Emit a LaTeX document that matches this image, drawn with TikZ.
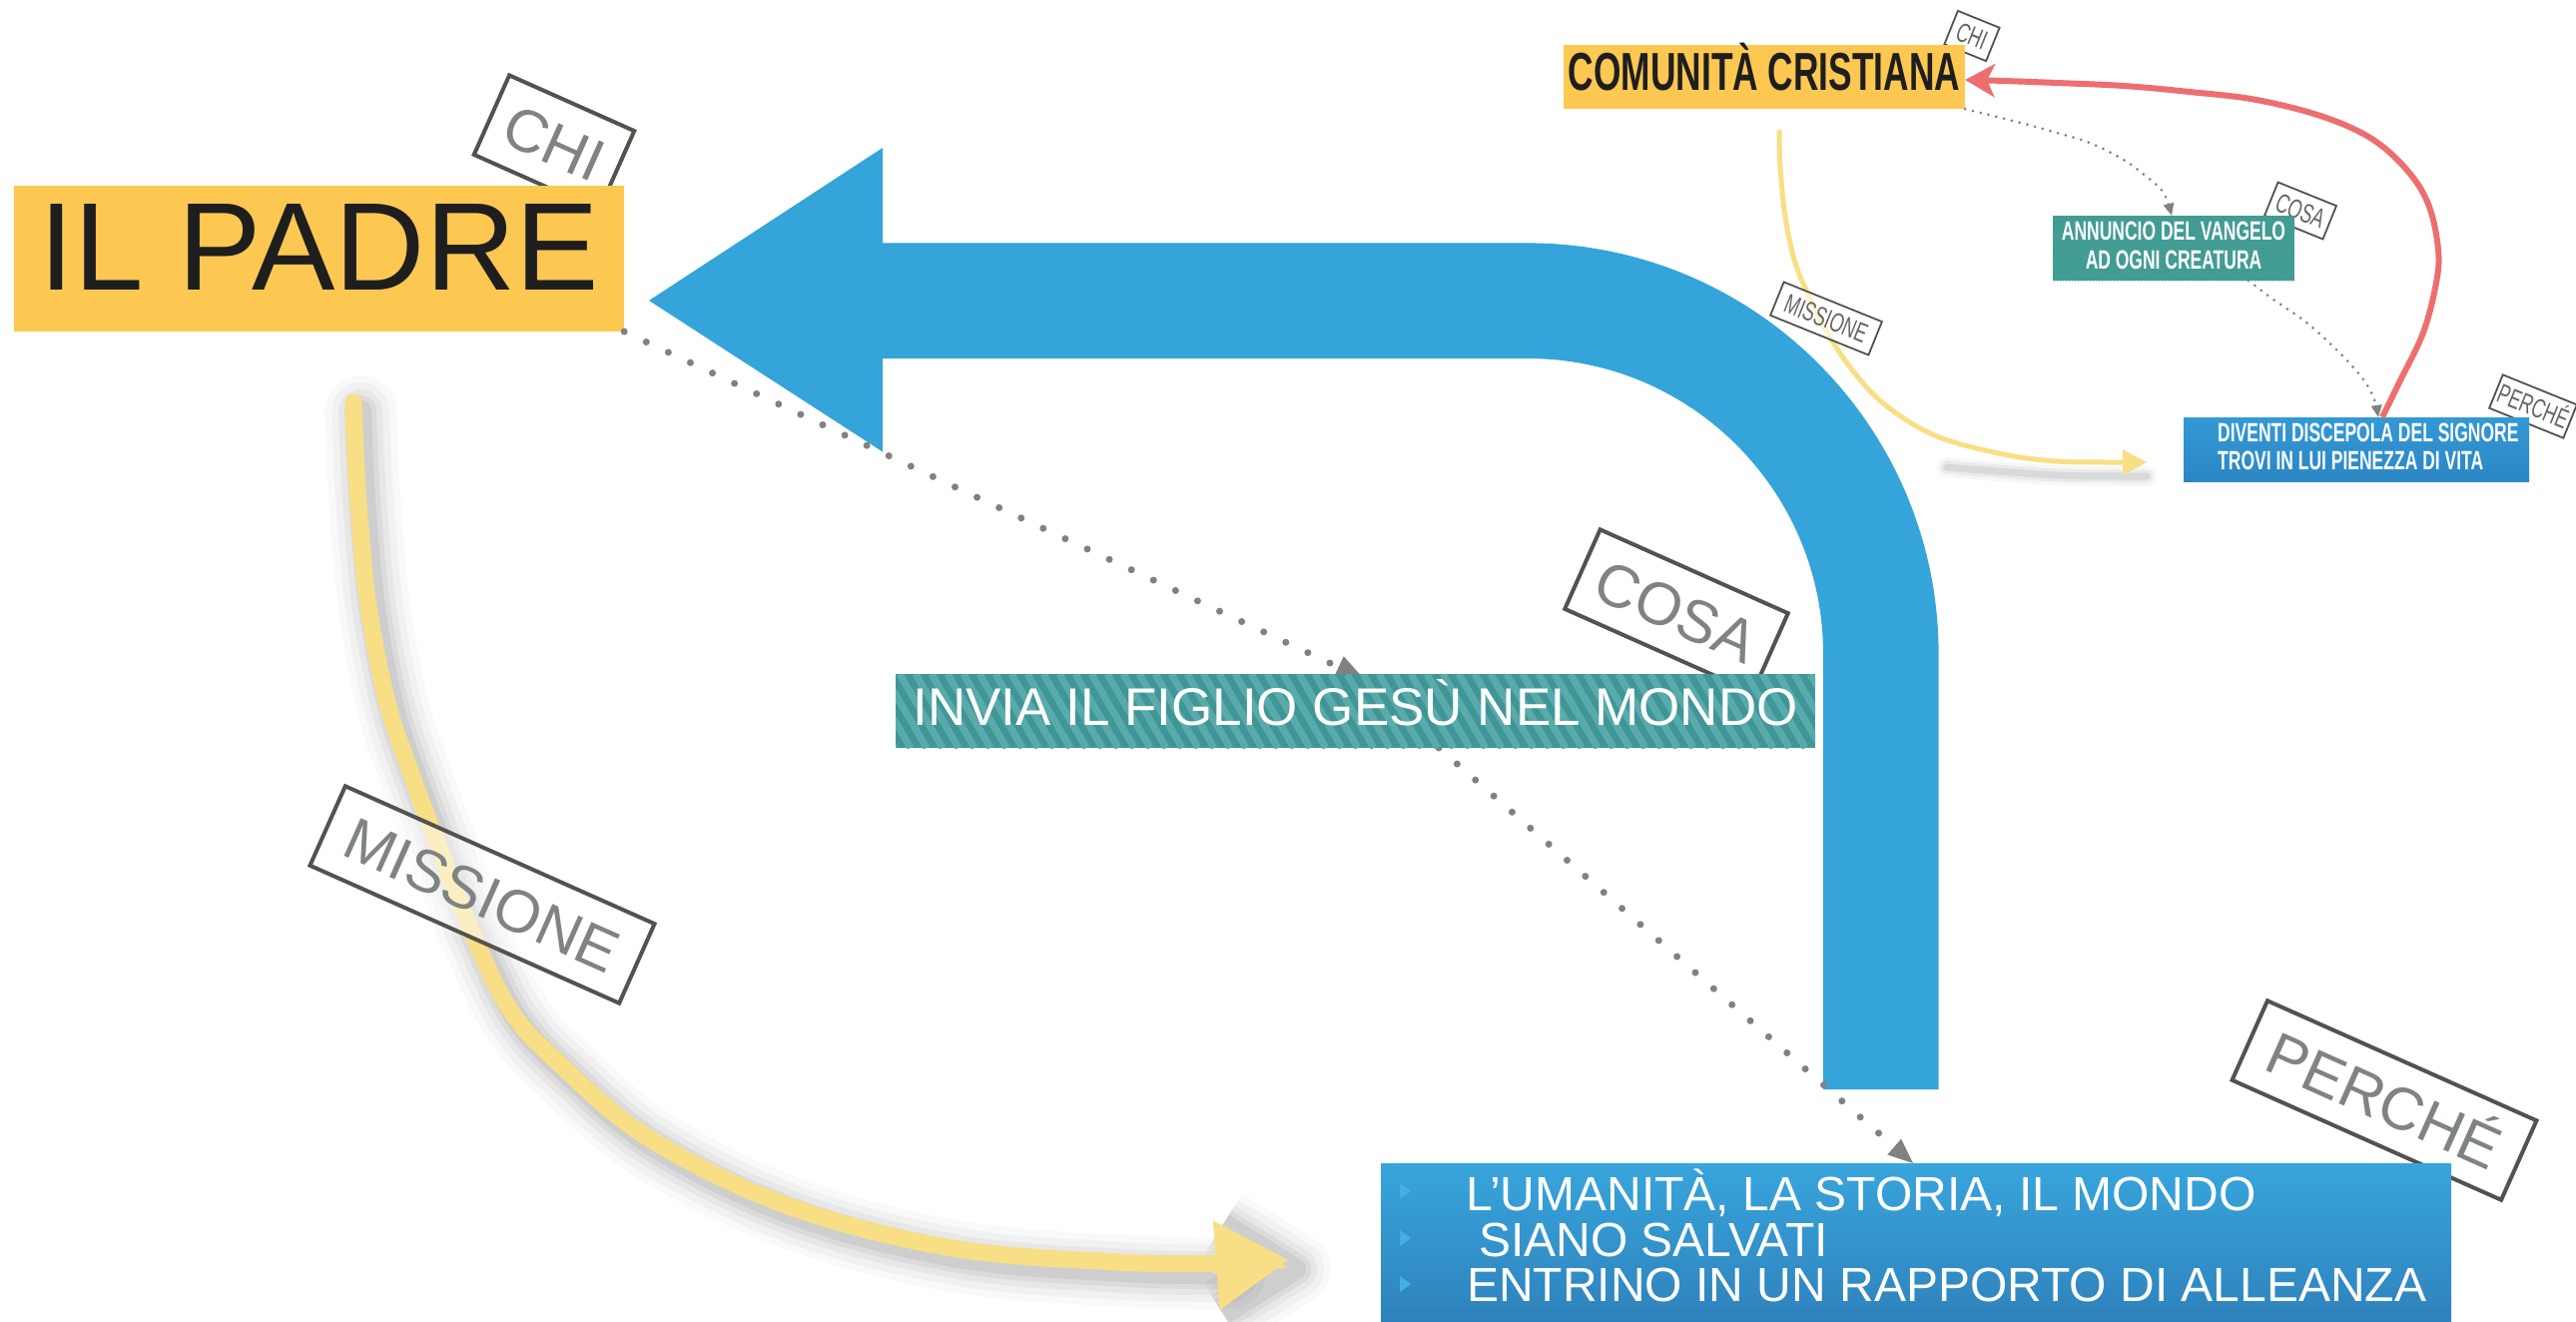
\documentclass[tikz,border=0pt]{standalone}
\usepackage{fontspec}
\setmainfont{Liberation Sans}
\newfontfamily\cond[FakeStretch=0.66]{Liberation Sans}
\usetikzlibrary{arrows.meta,patterns}
\definecolor{bigblue}{HTML}{35A4DA}
\definecolor{padreyel}{HTML}{FDC852}
\definecolor{padretext}{HTML}{1E1E1E}
\definecolor{tealA}{HTML}{409696}
\definecolor{tealB}{HTML}{58ABAA}
\definecolor{boxtop}{HTML}{38A5DC}
\definecolor{boxbot}{HTML}{2F82BC}
\definecolor{bulletblue}{HTML}{46AEE2}
\definecolor{tagborder}{HTML}{55524E}
\definecolor{taggray}{HTML}{7F8384}
\definecolor{smalltaggray}{HTML}{666666}
\definecolor{dotgray}{HTML}{818181}
\definecolor{yel}{HTML}{F8DF85}
\definecolor{redline}{HTML}{EE6E70}
\definecolor{smteal}{HTML}{3A968E}
\definecolor{smtealB}{HTML}{5CAFA8}
\definecolor{smblueT}{HTML}{3399D5}
\definecolor{smblueB}{HTML}{2C86C4}
\begin{document}
\begin{tikzpicture}[x=1pt,y=1pt,
  bigtag/.style={draw=tagborder, line width=4pt, fill=white, text=taggray,
    font=\fontsize{60}{60}\selectfont, minimum height=87pt, inner sep=0pt,
    text height=43pt, text depth=0pt, rotate=-24},
  smalltag/.style={draw=tagborder, line width=1.8pt, fill=white, text=smalltaggray,
    font=\cond\fontsize{27}{27}\selectfont, minimum height=36pt, inner sep=0pt,
    text height=19pt, text depth=0pt, rotate=-22},
  dotline/.style={dotgray, line width=7pt, line cap=round, dash pattern=on 0pt off 24.4pt},
  smdotline/.style={dotgray, line width=3pt, line cap=round, dash pattern=on 0pt off 8pt},
  bigline/.style={text=white, font=\fontsize{48}{48}\selectfont, inner sep=0pt, anchor=base west},
  smline/.style={text=white, font=\cond\bfseries\fontsize{26.5}{26.5}\selectfont, inner sep=0pt},
]
\useasboundingbox (0,0) rectangle (2580,-1323);
\fill[white] (0,0) rectangle (2580,-1323);

% ---------------- big yellow "missione" arrow with shadow
\coordinate (ystart) at (354,-403);
\coordinate (yend) at (1290,-1262);
\foreach \w/\o in {72/0.022,58/0.03,44/0.04,32/0.05,22/0.06} {
  \draw[black, line width=\w pt, opacity=\o, line cap=round, line join=round, shift={(7,-9)}]
    plot[smooth, tension=0.6] coordinates {(354,-403) (358,-490) (368,-600) (387,-700) (410,-770) (440,-850) (470,-927) (510,-1010) (560,-1065) (650,-1140) (790,-1208) (954,-1250) (1120,-1264) (1225,-1266)};
  \draw[black, line width=\w pt, opacity=\o, line join=round, shift={(7,-9)}]
    (1218,-1217) -- (1290,-1262) -- (1218,-1307);
}
\draw[yel, line width=17pt, line cap=round, -{Triangle[length=72pt,width=90pt,line width=0pt]}]
  plot[smooth, tension=0.6] coordinates {(ystart) (358,-490) (368,-600) (387,-700) (410,-770) (440,-850) (470,-927) (510,-1010) (560,-1065) (650,-1140) (790,-1208) (954,-1250) (1120,-1264) (1225,-1265) (yend)};

% ---------------- small diagram connectors
\coordinate (sy0) at (1782,-130);
\coordinate (sy1) at (2150,-463);
\foreach \w/\o in {20/0.03,13/0.05,7/0.07} {
  \draw[black, line width=\w pt, opacity=\o, line cap=round]
    plot[smooth] coordinates {(1950,-468) (2060,-476) (2150,-477)};
}
\draw[yel, line width=5pt, -{Triangle[length=24pt,width=26pt,line width=0pt]}]
  plot[smooth, tension=0.6] coordinates {(sy0) (1783,-167) (1788,-217) (1797,-260) (1810,-293) (1830,-333) (1857,-373) (1890,-407) (1940,-437) (2007,-455) (2060,-462) (2110,-463) (sy1)};

% ---------------- big blue arrow
\fill[bigblue] (650,-301) -- (884,-148) -- (884,-243.4) -- (1530,-243.4)
  arc[start angle=90, end angle=0, radius=411.6pt] -- (1941.6,-1091) -- (1826,-1091) -- (1826,-655)
  arc[start angle=0, end angle=90, radius=296pt] -- (884,-359) -- (884,-452.5) -- cycle;

% ---------------- tags lying behind boxes
\node[bigtag, minimum width=137pt] (chi) at (555,-143) {CHI};
\node[bigtag, minimum width=206pt] (cosa) at (1679,-612) {COSA};
\node[bigtag, minimum width=295pt] (perche) at (2388,-1102) {PERCHÉ};
\node[smalltag, minimum width=45pt] (schi) at (1975,-36) {CHI};
\node[smalltag, minimum width=63pt] (scosa) at (2304,-211) {COSA};
\node[smalltag, minimum width=80pt] (sperche) at (2537,-407) {PERCHÉ};

% ---------------- main boxes
\node[fill=padreyel, minimum width=611pt, minimum height=146pt, inner sep=0pt, text=padretext,
  font=\fontsize{125}{125}\selectfont, text height=89.5pt, text depth=25.9pt] (padre) at (319.5,-258.9) {IL PADRE};

\coordinate (d1tip) at (1366,-680);
\coordinate (d2start) at (1441,-749);
\coordinate (d2tip) at (1916,-1165);
\draw[dotline, -{Triangle[length=28pt,width=24pt,line width=0pt]}] (padre.south east) -- (d1tip);
\draw[dotline, -{Triangle[length=25pt,width=21pt,line width=0pt]}] (d2start) -- (d2tip);

\node[fill=tealA, minimum width=921pt, minimum height=74pt, inner sep=0pt, text=white,
  font=\fontsize{53}{53}\selectfont, text height=38pt, text depth=10pt,
  path picture={\foreach \i in {-60,-44,...,960} {\draw[tealB, line width=7pt] ([xshift=\i pt]path picture bounding box.north west) -- ++(43,-74);}}]
  (invia) at (1357.5,-712) {INVIA IL FIGLIO GESÙ NEL MONDO};

\node[top color=boxtop, bottom color=boxbot, minimum width=1072pt, minimum height=158pt, inner sep=0pt] (salv) at (1919,-1244) {};
\fill[bulletblue] (1402,-1185) -- (1413,-1193) -- (1402,-1201) -- cycle;
\fill[bulletblue] (1402,-1232) -- (1413,-1240) -- (1402,-1248) -- cycle;
\fill[bulletblue] (1402,-1278) -- (1413,-1286) -- (1402,-1294) -- cycle;
\node[bigline] (l1) at (1468,-1212) {L’UMANITÀ, LA STORIA, IL MONDO};
\node[bigline] (l2) at (1481,-1258) {SIANO SALVATI};
\node[bigline] (l3) at (1469,-1303) {ENTRINO IN UN RAPPORTO DI ALLEANZA};

\node[bigtag, minimum width=339pt, fill opacity=0.5, text opacity=1, draw opacity=1] (missione) at (483,-896) {MISSIONE};

% ---------------- small diagram boxes
\node[fill=padreyel, minimum width=402pt, minimum height=64pt, inner sep=0pt, text=padretext,
  font=\cond\bfseries\fontsize{53.5}{53.5}\selectfont, text height=38.3pt, text depth=12.3pt] (com) at (1767,-77) {COMUNITÀ CRISTIANA};
\node[preaction={fill=smteal}, pattern=north west lines, pattern color=smtealB, minimum width=242pt, minimum height=65pt, inner sep=0pt] (ann) at (2177,-248.5) {};
\node[smline, anchor=base] (ann1) at (2177,-240.7) {ANNUNCIO DEL VANGELO};
\node[smline, anchor=base] (ann2) at (2177,-269.3) {AD OGNI CREATURA};
\node[top color=smblueT, bottom color=smblueB, minimum width=346pt, minimum height=64pt, inner sep=0pt] (div) at (2360,-450) {};
\node[smline, anchor=base west] (div1) at (2221,-442.7) {DIVENTI DISCEPOLA DEL SIGNORE};
\node[smline, anchor=base west] (div2) at (2221,-470.7) {TROVI IN LUI PIENEZZA DI VITA};

\draw[smdotline, -{Triangle[length=12pt,width=11pt,line width=0pt]}]
  plot[smooth] coordinates {(com.south east) (2020,-122) (2060,-133) (2093,-143) (2127,-160) (2150,-177) (2167,-193) ([xshift=-2pt]ann.north)};
\draw[smdotline, -{Triangle[length=12pt,width=11pt,line width=0pt]}]
  plot[smooth] coordinates {([xshift=75pt]ann.south) (2277,-300) (2310,-323) (2343,-353) (2367,-380) (2378,-400) ([xshift=22pt]div.north)};
\draw[redline, line width=6pt, -{Stealth[length=30pt,width=34pt,inset=8pt,line width=0pt]}]
  plot[smooth, tension=0.6] coordinates {([xshift=26pt]div.north) (2403,-383) (2427,-333) (2440,-283) (2442,-250) (2433,-207) (2413,-173) (2377,-140) (2327,-117) (2260,-100) (2193,-92) (2127,-86) (2060,-83) (2007,-81) ([yshift=-3pt]com.east)};

\node[smalltag, minimum width=106pt, fill opacity=0.6, text opacity=1, draw opacity=1] (smissione) at (1829,-319) {MISSIONE};
\end{tikzpicture}
\end{document}
